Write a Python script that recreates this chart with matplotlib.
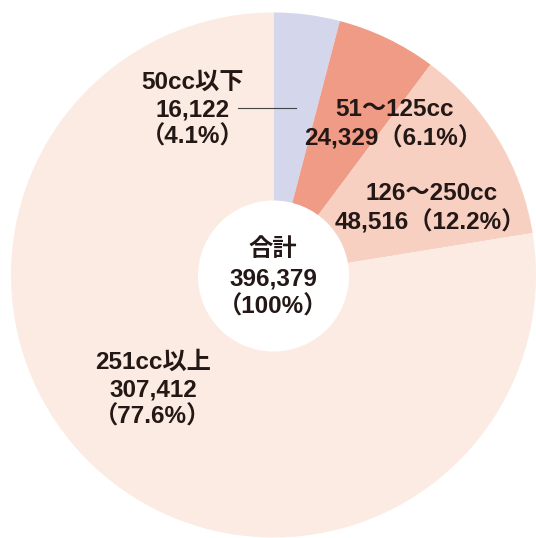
import matplotlib
matplotlib.use('Agg')
import matplotlib.pyplot as plt
from matplotlib.patches import Circle

plt.rcParams['font.family'] = ['Liberation Sans', 'Noto Sans CJK JP', 'DejaVu Sans']

# data
classes = ['50cc以下', '51～125cc', '126～250cc', '251cc以上']
counts = [16122, 24329, 48516, 307412]
shares = [4.1, 6.1, 12.2, 77.6]
total = 396379
colors = ['#d4d6ec', '#f09b85', '#f7d0c2', '#fcebe2']
text_col = '#231815'

W, H = 536, 538
fig = plt.figure(figsize=(W / 100, H / 100), dpi=100)
ax = fig.add_axes([0, 0, 1, 1])
ax.set_aspect('equal')

cx, cy, R = 273.5, 275, 262.5
# y axis is inverted, so counterclock=True goes clockwise on screen; start at top
ax.pie(counts, colors=colors, startangle=-90, counterclock=True,
       radius=R, center=(cx, cy), wedgeprops={'linewidth': 0},
       frame=True)
ax.set_xlim(0, W)
ax.set_ylim(H, 0)
ax.axis('off')
ax.add_patch(Circle((cx, 276), 75.5, facecolor='white', edgecolor='none', zorder=3))

fs = 17.5
kw = dict(ha='center', va='center', fontsize=fs, fontweight='bold', color=text_col, zorder=4)

def fmt(n):
    return f'{n:,}'

# 50cc以下
ax.text(193, 82, classes[0], **kw)
ax.text(193, 110, fmt(counts[0]), **kw)
ax.text(193, 137, f'（{shares[0]}%）', **kw)
ax.plot([238, 296], [108, 108], color='#444444', lw=0.8, zorder=4)

# 51～125cc
ax.text(395, 110, classes[1], **kw)
ax.text(393, 138, f'{fmt(counts[1])}（{shares[1]}%）', **kw)

# 126～250cc
ax.text(432, 193, classes[2], **kw)
ax.text(430, 222, f'{fmt(counts[2])}（{shares[2]}%）', **kw)

# 251cc以上
ax.text(153, 362, classes[3], **kw)
ax.text(153, 390, fmt(counts[3]), **kw)
ax.text(153, 417, f'（{shares[3]}%）', **kw)

# total
ax.text(273, 250, '合計', **kw)
ax.text(273, 279, fmt(total), **kw)
ax.text(273, 307, '（100%）', **kw)

fig.savefig('out.png', dpi=100, facecolor='white')
